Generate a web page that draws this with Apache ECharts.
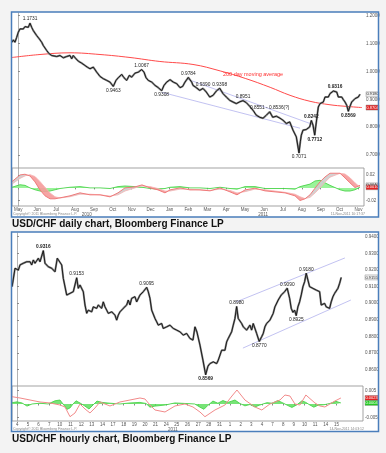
<!DOCTYPE html>
<html><head><meta charset="utf-8">
<script src="https://cdn.jsdelivr.net/npm/echarts@6/dist/echarts.min.js"></script>
<style>html,body{margin:0;padding:0;background:#f3f3f3;}#c{width:386px;height:453px;}</style>
</head><body><div id="c"></div>
<script>
// ---------------- DAILY CHART DATA ----------------
const monthLabels = ['May','Jun','Jul','Aug','Sep','Oct','Nov','Dec','Jan','Feb','Mar','Apr','May','Jun','Jul','Aug','Sep','Oct','Nov'];
const yearLabels = ['2010','2011'];
const yearAt = [3.62, 12.95];
const dailyPriceTicks = [0.7, 0.8, 0.9, 1.0, 1.1, 1.2];
const dailyOscTicks = [-0.02, 0.02];
// [month index, close]
const dailyPrice = [[-0.33,1.1046],[-0.265,1.1132],[-0.175,1.1046],[-0.085,1.1225],[0,1.1404],[0.09,1.1525],[0.18,1.1582],[0.265,1.1525],[0.355,1.1607],[0.444,1.1561],[0.529,1.1582],[0.619,1.1731],[0.709,1.1582],[0.794,1.1464],[0.884,1.1404],[0.974,1.1286],[1.111,1.1168],[1.238,1.1046],[1.323,1.0929],[1.503,1.075],[1.64,1.0632],[1.767,1.0571],[1.852,1.0607],[2.032,1.0536],[2.206,1.0571],[2.381,1.0489],[2.561,1.0536],[2.735,1.0571],[2.825,1.0454],[2.91,1.0571],[3.053,1.0454],[3.175,1.0368],[3.354,1.0296],[3.529,1.0214],[3.651,1.0154],[3.794,1.0096],[3.968,1.0154],[4.148,0.9975],[4.323,0.9821],[4.497,0.9739],[4.677,0.9679],[4.852,0.9618],[5.026,0.9463],[5.169,0.9679],[5.291,0.9775],[5.471,0.9893],[5.593,0.9775],[5.735,0.9679],[5.873,0.9857],[6.0,0.9796],[6.175,0.9939],[6.349,0.9975],[6.529,1.0067],[6.651,0.9975],[6.757,0.9775],[6.878,0.9679],[7.058,0.9618],[7.233,0.95],[7.407,0.9418],[7.587,0.9308],[7.709,0.95],[7.852,0.9618],[8.026,0.9704],[8.201,0.9618],[8.381,0.9561],[8.556,0.9418],[8.698,0.9464],[8.82,0.9618],[8.995,0.9784],[9.175,0.9618],[9.243,0.95],[9.418,0.9418],[9.598,0.9321],[9.772,0.939],[9.947,0.9261],[10.127,0.9082],[10.302,0.9143],[10.476,0.9296],[10.656,0.9398],[10.831,0.9204],[11.005,0.9082],[11.185,0.8964],[11.36,0.8904],[11.534,0.8846],[11.714,0.891],[11.889,0.8951],[12.063,0.888],[12.243,0.875],[12.418,0.8607],[12.593,0.8429],[12.772,0.8357],[12.947,0.8321],[13.122,0.8429],[13.302,0.8551],[13.46,0.8357],[13.651,0.8393],[13.847,0.8321],[14.005,0.825],[14.18,0.8132],[14.36,0.8189],[14.534,0.7893],[14.709,0.7654],[14.852,0.7071],[14.921,0.7475],[14.974,0.7714],[15.063,0.7893],[15.238,0.7918],[15.328,0.7893],[15.418,0.8011],[15.503,0.8242],[15.593,0.8071],[15.683,0.7712],[15.735,0.8011],[15.804,0.8368],[15.873,0.8725],[15.963,0.8846],[16.053,0.8821],[16.138,0.8904],[16.228,0.9082],[16.317,0.9143],[16.402,0.9082],[16.492,0.9204],[16.582,0.9261],[16.667,0.9296],[16.757,0.9316],[16.847,0.9261],[16.931,0.9082],[17.021,0.9025],[17.111,0.9082],[17.196,0.8989],[17.286,0.8904],[17.376,0.8786],[17.46,0.8569],[17.55,0.875],[17.64,0.8904],[17.725,0.8964],[17.815,0.9025],[17.905,0.8964],[17.989,0.9082],[18.079,0.918]];
const dailyMA = [[-0.333,1.05],[1.148,1.0607],[2.735,1.0668],[4.323,1.0607],[5.91,1.05],[7.492,1.0357],[9.243,1.025],[10.683,1.0018],[12.005,0.975],[13.328,0.9429],[14.376,0.9143],[15.434,0.8929],[16.492,0.8804],[17.286,0.875],[18.185,0.8704]];
const dailyTrendUpper = [[8.979,0.9714],[15.54,0.8107]];
const dailyTrendLower = [[7.603,0.925],[14.905,0.7964]];
// [x, value, place, bold, text]
const dailyNotes = [[0.619,1.1731,'top',0],[5.026,0.9463,'bottom',0],[6.529,1.0067,'top',0],[7.587,0.9308,'bottom',0],[8.995,0.9784,'top',0],[9.772,0.939,'top',0],[10.656,0.9398,'top',0],[11.889,0.8951,'top',0],[13.302,0.8551,'top',0,'0.8551 - 0.8536(?)'],[15.503,0.8242,'top',1],[14.852,0.7071,'bottom',0],[15.683,0.7712,'bottom',1],[16.757,0.9316,'top',1],[17.46,0.8569,'bottom',1]];
const maLabel = [12.42, 0.9893, '200 day moving average'];
const dailyOscX = [-0.333,0.09,0.355,0.619,0.884,1.148,1.413,1.677,1.942,2.206,2.735,3.265,3.794,4.323,4.852,5.275,5.646,6.175,6.545,6.968,7.392,7.762,8.026,8.556,9.085,9.614,10.143,10.672,11.201,11.571,11.995,12.524,13.053,13.582,14.111,14.64,14.905,15.169,15.434,15.698,15.963,16.228,16.492,17.021,17.286,17.55,17.815,18.079];
const dailyMacd = [0.0099,0.0205,0.0216,0.0189,0.0095,-0.0032,-0.0126,-0.0173,-0.0173,-0.0158,-0.0126,-0.0079,-0.011,-0.011,-0.0142,-0.0079,0,0.0016,0.0047,0,-0.0032,-0.0079,-0.0032,0,-0.0032,-0.0032,-0.0047,0,-0.0063,-0.011,-0.0032,-0.0005,-0.0047,-0.0063,-0.0079,-0.0126,-0.02,-0.0173,-0.011,-0.0005,0.0095,0.0173,0.0232,0.0232,0.0158,0.0079,0.0005,0.004];
const dailySignal = [0.006,0.015,0.019,0.021,0.018,0.010,0.001,-0.008,-0.014,-0.016,-0.014,-0.010,-0.010,-0.011,-0.013,-0.011,-0.005,0.000,0.003,0.002,-0.001,-0.005,-0.005,-0.002,-0.002,-0.003,-0.004,-0.002,-0.004,-0.008,-0.006,-0.002,-0.003,-0.005,-0.007,-0.010,-0.014,-0.017,-0.015,-0.008,0.000,0.009,0.017,0.023,0.022,0.016,0.008,0.001];
const dailyHist = [0.001,0.005,0.004,0.000,-0.003,-0.005,-0.006,-0.005,-0.003,-0.001,0.001,0.002,0.000,0.000,-0.001,0.002,0.003,0.002,0.001,-0.001,-0.002,-0.001,0.001,0.002,0.000,0.000,-0.001,0.001,-0.001,-0.002,0.002,0.002,-0.001,-0.001,-0.001,-0.002,0.002,0.004,0.006,0.011,0.012,0.008,0.004,-0.003,-0.005,-0.005,-0.003,0.001];

// ---------------- HOURLY CHART DATA ----------------
const hourDays = ['4','5','6','7','10','11','12','13','14','17','18','19','20','21','24','25','26','27','28','31','1','2','3','4','7','8','9','10','11','14','15'];
const hourYearLabels = ['2011'];
const hourYearAt = [14.63];
const hourlyPriceTicks = [0.86,0.87,0.88,0.89,0.90,0.91,0.92,0.93,0.94];
const hourlyOscTicks = [-0.005, 0.005];
const hourlyPrice = [[-0.49,0.9099],[-0.216,0.921],[-0.056,0.9219],[0.094,0.9199],[0.254,0.923],[0.414,0.9219],[0.564,0.924],[0.724,0.923],[0.883,0.9249],[1.034,0.926],[1.194,0.9249],[1.353,0.923],[1.504,0.926],[1.664,0.924],[1.823,0.9249],[1.974,0.927],[2.133,0.9249],[2.293,0.926],[2.444,0.9316],[2.603,0.924],[2.763,0.923],[2.914,0.9219],[3.073,0.923],[3.233,0.921],[3.383,0.9219],[3.543,0.9189],[3.759,0.927],[3.947,0.928],[4.173,0.923],[4.323,0.9149],[4.643,0.9049],[4.793,0.9039],[4.953,0.9059],[5.113,0.9049],[5.263,0.9069],[5.423,0.9079],[5.583,0.9153],[5.733,0.9089],[5.893,0.9109],[6.053,0.9099],[6.203,0.9069],[6.363,0.8989],[6.523,0.8939],[6.673,0.8958],[6.833,0.8969],[6.992,0.8948],[7.143,0.8978],[7.462,0.8969],[7.613,0.8989],[7.773,0.8999],[7.932,0.8969],[8.083,0.9008],[8.242,0.8978],[8.402,0.8958],[8.553,0.8939],[8.712,0.8928],[8.872,0.8948],[9.023,0.8939],[9.182,0.8928],[9.342,0.8898],[9.492,0.8928],[9.652,0.8948],[9.962,0.8969],[10.282,0.8989],[10.432,0.9019],[10.592,0.8989],[10.752,0.9029],[10.902,0.9019],[11.062,0.9039],[11.222,0.9008],[11.532,0.9049],[11.842,0.9069],[12.162,0.9095],[12.312,0.9069],[12.472,0.9029],[12.632,0.8958],[12.782,0.8948],[12.942,0.8908],[13.102,0.8888],[13.252,0.8868],[13.412,0.8858],[13.571,0.8878],[13.722,0.8848],[14.041,0.8858],[14.352,0.8868],[14.662,0.8848],[14.981,0.8838],[15.291,0.8828],[15.602,0.8808],[15.921,0.8818],[16.231,0.8788],[16.513,0.8778],[16.701,0.8858],[16.889,0.8826],[17.171,0.8748],[17.453,0.8657],[17.707,0.8569],[17.923,0.8621],[18.111,0.8637],[18.421,0.8647],[18.741,0.8637],[18.891,0.8657],[19.051,0.8647],[19.211,0.8717],[19.361,0.8728],[19.521,0.8717],[19.68,0.8767],[19.831,0.8788],[19.991,0.8798],[20.15,0.8828],[20.301,0.8868],[20.461,0.8908],[20.62,0.898],[20.771,0.8908],[20.931,0.8898],[21.09,0.8878],[21.241,0.8858],[21.56,0.8838],[21.871,0.8868],[22.03,0.8838],[22.18,0.8878],[22.5,0.8818],[22.744,0.877],[22.97,0.8798],[23.12,0.8818],[23.28,0.8858],[23.44,0.8878],[23.75,0.8898],[24.06,0.8939],[24.22,0.8978],[24.53,0.9019],[24.812,0.9049],[25.132,0.9069],[25.376,0.909],[25.602,0.9029],[25.752,0.8969],[25.912,0.8945],[26.071,0.8958],[26.222,0.8925],[26.381,0.8978],[26.541,0.9008],[26.692,0.9049],[26.852,0.9099],[27.011,0.9129],[27.162,0.918],[27.321,0.9139],[27.481,0.9099],[27.632,0.9109],[27.791,0.9089],[27.951,0.9099],[28.102,0.9079],[28.261,0.9089],[28.421,0.9069],[28.571,0.8989],[28.731,0.8978],[28.891,0.8999],[29.041,0.8978],[29.201,0.8989],[29.361,0.8969],[29.511,0.9008],[29.671,0.9039],[29.831,0.9059],[29.981,0.9069],[30.141,0.9089],[30.301,0.9119],[30.451,0.9155]];
const hourlyTrendUpper = [[20.55,0.9007],[30.8,0.9272]];
const hourlyTrendLower = [[21.21,0.873],[31.36,0.9019]];
const hourlyNotes = [[2.444,0.9316,'top',1],[5.583,0.9153,'top',0],[12.162,0.9095,'top',0],[17.707,0.8569,'bottom',1],[20.62,0.898,'top',0],[22.744,0.877,'bottom',0],[25.376,0.909,'top',0],[26.222,0.8925,'bottom',0],[27.162,0.918,'top',0]];
const hourlyMacd = [[-0.49,0.00274],[0.254,0.00226],[1.194,0.0015],[2.133,0.00075],[3.073,0.00038],[4.013,-0.00038],[4.483,-0.00113],[4.953,-0.00478],[5.423,-0.00338],[5.893,0],[6.363,-0.00188],[6.833,-0.00338],[7.303,-0.0015],[7.773,0.00075],[8.712,-0.00075],[9.652,0.00075],[10.592,0.0015],[11.532,0.00226],[12.002,0.00188],[12.472,-0.00038],[12.942,-0.00226],[13.882,-0.00301],[14.821,-0.00075],[15.761,0],[16.513,-0.00113],[17.171,-0.00301],[17.641,-0.00478],[18.581,-0.00226],[19.521,-0.00038],[20.18,0.00301],[20.65,0.00526],[21.4,0.0015],[22.34,-0.00113],[22.99,-0.00226],[23.75,0],[24.69,0.0015],[25.16,0.00338],[25.63,0.00301],[26.1,0],[26.57,-0.00038],[27.13,0.00338],[27.98,0.00038],[28.45,-0.00075],[28.92,-0.00113],[29.39,0],[29.86,0.00113],[30.42,0.00226]];
const hourlyHist = [[-0.49,0.0005],[-0.03,0.0008],[0.44,0.0004],[0.91,-0.0008],[1.38,0],[2.13,0.0003],[2.89,0],[3.54,0.0012],[4.01,0.0015],[4.30,0],[4.67,-0.002],[4.95,-0.0015],[5.24,0],[5.52,0.0012],[5.89,0.0004],[6.36,-0.0008],[6.74,-0.0019],[7.11,-0.0004],[7.49,0.0011],[7.96,0.0006],[8.71,0.0003],[9.65,0],[10.59,0.0004],[11.53,0.0006],[12.1,0.0002],[12.47,-0.0012],[12.94,-0.0008],[13.88,-0.0004],[14.82,0.0004],[15.76,0.0002],[16.69,0],[17.17,-0.0012],[17.55,-0.002],[17.92,-0.0005],[18.39,0.0011],[18.86,0.0003],[19.33,0.0013],[19.8,0.0006],[20.46,0.0015],[20.93,0.0002],[21.4,-0.0007],[21.87,-0.0002],[22.34,-0.0011],[22.8,-0.0004],[23.47,0.0005],[23.94,0.0003],[24.5,0.0013],[24.97,0.0004],[25.44,-0.0006],[25.82,-0.0013],[26.29,-0.0003],[26.76,0.0012],[27.13,0.0006],[27.51,-0.0004],[27.88,-0.0012],[28.26,-0.0005],[28.82,-0.0003],[29.39,0.0002],[29.95,0.001],[30.42,0.0004]];

// ---------------- BUILD ----------------
const FONT = '"Liberation Sans", Arial, sans-serif';
const DX = [-0.333, 18.29];
const HX = [-0.5, 32.5];
const AX = '#a0a0a0';
const last = a => a[a.length - 1];
const nearest = (arr, v) => { let k = 0; arr.forEach((a, j) => { if (Math.abs(a - v) < Math.abs(arr[k] - v)) k = j; }); return k; };

function notePoints(notes) {
  return notes.map(n => ({
    coord: [n[0], n[1]], symbol: 'circle', symbolSize: 0,
    label: { show: true, position: n[2], distance: 1.5, formatter: n[4] || n[1].toFixed(4),
      fontSize: 4.8, color: '#222', fontWeight: n[3] ? 'bold' : 'normal', fontFamily: FONT }
  }));
}
function box(x, y, text, bg, fg) {
  return { coord: [x, y], symbol: 'rect', symbolSize: [13, 5], symbolOffset: [8.5, 0],
    itemStyle: { color: bg, borderColor: '#888', borderWidth: 0.4 },
    label: { show: true, position: 'inside', formatter: text, fontSize: 4, color: fg, fontFamily: FONT } };
}
function priceY(grid, min, max, ticks) {
  return { type: 'value', gridIndex: grid, position: 'right', min: min, max: max, scale: true,
    axisLine: { show: true, lineStyle: { color: AX, width: 0.8 } },
    axisTick: { show: true, length: 1.5, customValues: ticks, lineStyle: { color: '#777' } },
    splitLine: { show: false },
    axisLabel: { customValues: ticks, fontSize: 4.5, color: '#555', margin: 2, fontFamily: FONT,
      formatter: v => (Math.abs(v) < 0.05 ? v.toFixed(Math.abs(v) < 0.01 ? 3 : 2) : v.toFixed(4)) } };
}
function labelX(grid, min, max, at, labels, offset, showTick) {
  return { type: 'value', gridIndex: grid, min: min, max: max, position: 'bottom', offset: offset,
    axisLine: { show: false }, splitLine: { show: false },
    axisTick: { show: showTick, length: 1.5, customValues: at, lineStyle: { color: '#888' } },
    axisLabel: { customValues: at, fontSize: 4.5, color: '#555', margin: 1.5, fontFamily: FONT,
      formatter: v => labels[nearest(at, v)] } };
}
const monthAt = monthLabels.map((_, k) => k);
const dayAt = hourDays.map((_, k) => k);

const dMacd = dailyOscX.map((x, k) => [x, dailyMacd[k]]);
const dSig = dailyOscX.map((x, k) => [x, dailySignal[k]]);
const dHist = dailyOscX.map((x, k) => [x, dailyHist[k]]);

// ribbon between MACD and signal (red when MACD below, gray when above)
function ribbon(params, api) {
  const children = [];
  for (let k = 0; k < dailyOscX.length - 1; k++) {
    const a = api.coord([dailyOscX[k], dailyMacd[k]]);
    const b = api.coord([dailyOscX[k + 1], dailyMacd[k + 1]]);
    const c = api.coord([dailyOscX[k + 1], dailySignal[k + 1]]);
    const d = api.coord([dailyOscX[k], dailySignal[k]]);
    const diff = (dailyMacd[k] - dailySignal[k]) + (dailyMacd[k + 1] - dailySignal[k + 1]);
    children.push({ type: 'polygon', shape: { points: [a, b, c, d] },
      style: { fill: diff < 0 ? '#f59a9a' : '#cdcdcd', stroke: null, opacity: 0.9 } });
  }
  return { type: 'group', children: children };
}

const noSym = { symbol: 'none', silent: true };
const trend = (xi, yi, data) => Object.assign({ type: 'line', xAxisIndex: xi, yAxisIndex: yi, data: data,
  lineStyle: { color: '#b3b3ee', width: 0.8 }, z: 1 }, noSym);

const option = {
  animation: false,
  backgroundColor: '#f3f3f3',
  textStyle: { fontFamily: FONT },
  grid: [
    { left: 12, top: 13, width: 352, height: 155, outerBoundsMode: 'none' },
    { left: 12, top: 168, width: 352, height: 38, show: true, borderColor: '#999', borderWidth: 0.9, outerBoundsMode: 'none' },
    { left: 12, top: 233, width: 351, height: 153, outerBoundsMode: 'none' },
    { left: 12, top: 386, width: 351, height: 35, show: true, borderColor: '#999', borderWidth: 0.9, outerBoundsMode: 'none' }
  ],
  xAxis: [
    { type: 'value', gridIndex: 0, min: DX[0], max: DX[1], show: false },
    labelX(1, DX[0], DX[1], monthAt, monthLabels, 0, true),
    labelX(1, DX[0], DX[1], yearAt, yearLabels, 4.5, false),
    { type: 'value', gridIndex: 2, min: HX[0], max: HX[1], show: false },
    labelX(3, HX[0], HX[1], dayAt, hourDays, 0, true),
    labelX(3, HX[0], HX[1], hourYearAt, hourYearLabels, 4.5, false)
  ],
  yAxis: [
    priceY(0, 0.6536, 1.2096, dailyPriceTicks),
    priceY(1, -0.0287, 0.0315, dailyOscTicks),
    priceY(2, 0.8502, 0.9422, hourlyPriceTicks),
    priceY(3, -0.0064, 0.00677, hourlyOscTicks)
  ],
  series: [
    // daily price
    trend(0, 0, dailyTrendUpper),
    trend(0, 0, dailyTrendLower),
    Object.assign({ type: 'line', xAxisIndex: 0, yAxisIndex: 0, data: dailyMA, smooth: 0.4,
      lineStyle: { color: '#ff4a4a', width: 1 }, z: 2,
      markPoint: { silent: true, data: [
        { coord: [maLabel[0], maLabel[1]], symbol: 'circle', symbolSize: 0,
          label: { show: true, position: 'inside', formatter: maLabel[2], fontSize: 5.5, color: '#ff3030', fontFamily: FONT } },
        box(DX[1], last(dailyMA)[1], last(dailyMA)[1].toFixed(4), '#e32222', '#fff')
      ] } }, noSym),
    Object.assign({ type: 'line', xAxisIndex: 0, yAxisIndex: 0, data: dailyPrice,
      lineStyle: { color: '#8a8a8a', width: 2 }, z: 3 }, noSym),
    Object.assign({ type: 'line', xAxisIndex: 0, yAxisIndex: 0, data: dailyPrice,
      lineStyle: { color: '#111', width: 0.9 }, z: 4,
      markPoint: { silent: true, data: notePoints(dailyNotes).concat([box(DX[1], last(dailyPrice)[1], last(dailyPrice)[1].toFixed(4), '#eeeeee', '#333')]) } }, noSym),
    // daily oscillator
    Object.assign({ type: 'line', xAxisIndex: 1, yAxisIndex: 1, data: dHist,
      lineStyle: { color: '#3ccf3c', width: 0.8 }, areaStyle: { color: '#8ff28f', opacity: 0.9 }, z: 2 }, noSym),
    { type: 'custom', xAxisIndex: 1, yAxisIndex: 1, data: [[0, 0]], renderItem: ribbon, silent: true, z: 3 },
    Object.assign({ type: 'line', xAxisIndex: 1, yAxisIndex: 1, data: dSig,
      lineStyle: { color: '#f6b3b3', width: 0.8 }, z: 4 }, noSym),
    Object.assign({ type: 'line', xAxisIndex: 1, yAxisIndex: 1, data: dMacd,
      lineStyle: { color: '#f07a7a', width: 1 }, z: 5,
      markPoint: { silent: true, data: [
        box(DX[1], last(dailyMacd), last(dailyMacd).toFixed(4), '#eeeeee', '#333'),
        box(DX[1], last(dailySignal), last(dailySignal).toFixed(4), '#e32222', '#fff')
      ] } }, noSym),
    // hourly price
    trend(3, 2, hourlyTrendUpper),
    trend(3, 2, hourlyTrendLower),
    Object.assign({ type: 'line', xAxisIndex: 3, yAxisIndex: 2, data: hourlyPrice,
      lineStyle: { color: '#8a8a8a', width: 2 }, z: 3 }, noSym),
    Object.assign({ type: 'line', xAxisIndex: 3, yAxisIndex: 2, data: hourlyPrice,
      lineStyle: { color: '#111', width: 0.9 }, z: 4,
      markPoint: { silent: true, data: notePoints(hourlyNotes).concat([box(HX[1], last(hourlyPrice)[1], last(hourlyPrice)[1].toFixed(4), '#eeeeee', '#333')]) } }, noSym),
    // hourly oscillator
    Object.assign({ type: 'line', xAxisIndex: 4, yAxisIndex: 3, data: hourlyHist,
      lineStyle: { color: '#3ccf3c', width: 0.8 }, areaStyle: { color: '#55dd55', opacity: 0.8 }, z: 2 }, noSym),
    Object.assign({ type: 'line', xAxisIndex: 4, yAxisIndex: 3, data: hourlyMacd,
      lineStyle: { color: '#f28a8a', width: 1 }, z: 5,
      markPoint: { silent: true, data: [
        box(HX[1], last(hourlyMacd)[1], last(hourlyMacd)[1].toFixed(4), '#e32222', '#fff'),
        box(HX[1], last(hourlyHist)[1], last(hourlyHist)[1].toFixed(4), '#22cc22', '#fff')
      ] } }, noSym)
  ],
  graphic: [
    { type: 'rect', z: -10, shape: { x: 11.5, y: 12, width: 367, height: 205 }, style: { fill: '#fff' } },
    { type: 'rect', z: -10, shape: { x: 11.5, y: 232, width: 367, height: 199.5 }, style: { fill: '#fff' } },
    { type: 'rect', z: 100, shape: { x: 11.5, y: 12, width: 367, height: 205 }, style: { fill: 'none', stroke: '#4a7ebb', lineWidth: 1.5 } },
    { type: 'rect', z: 100, shape: { x: 11.5, y: 232, width: 367, height: 199.5 }, style: { fill: 'none', stroke: '#4a7ebb', lineWidth: 1.5 } },
    { type: 'text', z: 100, style: { x: 12, y: 224.5, text: 'USD/CHF daily chart, Bloomberg Finance LP', font: 'bold 10px ' + FONT, fill: '#111', verticalAlign: 'middle' } },
    { type: 'text', z: 100, style: { x: 12, y: 439.5, text: 'USD/CHF hourly chart, Bloomberg Finance LP', font: 'bold 10px ' + FONT, fill: '#111', verticalAlign: 'middle' } },
    { type: 'text', z: 100, style: { x: 13, y: 214.5, text: 'Copyright\u00a9 2011 Bloomberg Finance L.P.', font: '3.5px ' + FONT, fill: '#888', verticalAlign: 'middle' } },
    { type: 'text', z: 100, style: { x: 365, y: 214.5, text: '11-Nov-2011 10:17:37', font: '3.5px ' + FONT, fill: '#888', verticalAlign: 'middle', align: 'right' } },
    { type: 'text', z: 100, style: { x: 13, y: 429.5, text: 'Copyright\u00a9 2011 Bloomberg Finance L.P.', font: '3.5px ' + FONT, fill: '#888', verticalAlign: 'middle' } },
    { type: 'text', z: 100, style: { x: 364, y: 429.5, text: '14-Nov-2011 14:03:12', font: '3.5px ' + FONT, fill: '#888', verticalAlign: 'middle', align: 'right' } }
  ]
};
const chart = echarts.init(document.getElementById('c'));
chart.setOption(option);
</script>
</body></html>
